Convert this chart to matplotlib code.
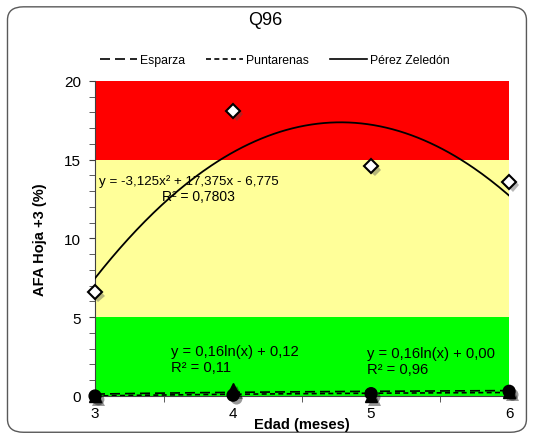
import numpy as np
import matplotlib.pyplot as plt
import matplotlib.patheffects as pe
from matplotlib.patches import FancyBboxPatch

plt.rcParams['font.family'] = ['Liberation Sans', 'DejaVu Sans']

# Ages (months) shown as categories 1..4
edad = ['3', '4', '5', '6']
pos = np.arange(1, 5)

esparza = [0.0, 0.45, 0.0, 0.3]
puntarenas = [0.0, 0.05, 0.15, 0.3]
perez_zeledon = [6.6, 18.1, 14.6, 13.6]

# trendline coefficients
pz_poly = [-3.125, 17.375, -6.775]
esp_log = [0.16, 0.12]
pun_log = [0.16, 0.00]

fig = plt.figure(figsize=(5.35, 4.35), dpi=100)

# rounded chart frame
frame = FancyBboxPatch((0.014, 0.004), 0.97, 0.978, boxstyle='round,pad=0,rounding_size=0.03',
                       transform=fig.transFigure, fc='white', ec='#595959', lw=1.0, zorder=-5)
fig.patches.append(frame)

ax = fig.add_axes([0.1776, 0.0874, 0.774, 0.7241])
ax.set_facecolor('none')

# colour bands
ax.axhspan(0, 5, color='#00ff00', zorder=0, lw=0)
ax.axhspan(5, 15, color='#ffff99', zorder=0, lw=0)
ax.axhspan(15, 20, color='#ff0000', zorder=0, lw=0)

xs = np.linspace(1, 4, 200)
ax.plot(xs, np.polyval(pz_poly, xs), color='black', lw=1.3, zorder=3)
ax.plot(xs, esp_log[0] * np.log(xs) + esp_log[1], color='black', lw=1.2,
        dashes=(6, 3), zorder=3)
ax.plot(xs, pun_log[0] * np.log(xs) + pun_log[1], color='black', lw=1.2,
        dashes=(3, 2), zorder=3)

shadow = [pe.SimplePatchShadow(offset=(2.5, -2.5), alpha=0.4, rho=0.3), pe.Normal()]
ax.plot(pos, esparza, linestyle='none', marker='^', ms=9, color='black',
        clip_on=False, zorder=4, path_effects=shadow)
ax.plot(pos, puntarenas, linestyle='none', marker='o', ms=8.5, color='black',
        clip_on=False, zorder=5, path_effects=shadow)
ax.plot(pos, perez_zeledon, linestyle='none', marker='D', ms=7, mfc='white',
        mec='black', mew=1.5, clip_on=False, zorder=5, path_effects=shadow)

ax.set_xlim(1, 4)
ax.set_ylim(0, 20)
ax.set_xticks(pos)
ax.set_xticklabels(edad, fontsize=11)
ax.set_xticks([1.5, 2.5, 3.5], minor=True)
ax.tick_params(axis='x', which='major', length=0, pad=7)
ax.tick_params(axis='x', which='minor', length=4, direction='out', color='#404040')
ax.set_yticks([0, 5, 10, 15, 20])
ax.set_yticks(np.arange(0, 21, 1), minor=True)
ax.tick_params(axis='y', which='both', length=4, direction='out', color='#404040',
               labelsize=11, pad=6)
for s in ['top', 'right']:
    ax.spines[s].set_visible(False)
ax.spines['left'].set_color('#404040')
ax.spines['bottom'].set_color('#404040')

ax.set_xlabel('Edad (meses)', fontsize=10.5, fontweight='bold', labelpad=-2)
ax.set_ylabel('AFA Hoja +3 (%)', fontsize=10.5, fontweight='bold', labelpad=12)

# trendline equations
ax.text(1.03, 13.65, 'y = -3,125x² + 17,375x - 6,775', fontsize=9.6, va='center')
ax.text(1.485, 12.7, 'R² = 0,7803', fontsize=10, va='center')
ax.text(1.55, 2.87, 'y = 0,16ln(x) + 0,12', fontsize=10.6, va='center')
ax.text(1.55, 1.85, 'R² = 0,11', fontsize=10.6, va='center')
ax.text(2.97, 2.75, 'y = 0,16ln(x) + 0,00', fontsize=10.6, va='center')
ax.text(2.97, 1.73, 'R² = 0,96', fontsize=10.6, va='center')

fig.text(0.495, 0.952, 'Q96', ha='center', va='center', fontsize=13)

# legend
handles = [
    plt.Line2D([], [], color='black', lw=1.2, dashes=(6, 3)),
    plt.Line2D([], [], color='black', lw=1.2, dashes=(3, 2)),
    plt.Line2D([], [], color='black', lw=1.2),
]
fig.legend(handles, ['Esparza', 'Puntarenas', 'Pérez Zeledón'], loc='center',
           bbox_to_anchor=(0.514, 0.86), ncol=3, frameon=False, fontsize=8.8,
           handlelength=3.0, handletextpad=0.3, columnspacing=1.7)

fig.savefig('out.png', dpi=100)
